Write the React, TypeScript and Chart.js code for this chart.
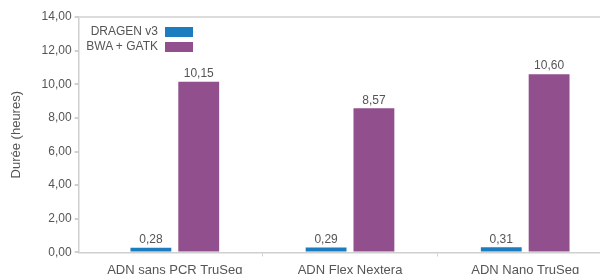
import React, { useEffect, useRef } from 'react';
import { Chart, registerables } from 'chart.js';

Chart.register(...registerables);

const categories = ['ADN sans PCR TruSeq', 'ADN Flex Nextera', 'ADN Nano TruSeq'];
const seriesNames = ['DRAGEN v3', 'BWA + GATK'];
const dragenValues = [0.28, 0.29, 0.31];
const bwaValues = [10.15, 8.57, 10.6];
const seriesColors = ['#1b7dbf', '#914f8d'];
const yTickValues = [0, 2, 4, 6, 8, 10, 12, 14];
const yAxisTitle = 'Durée (heures)';

const FONT = '"Liberation Sans", Arial, Helvetica, sans-serif';
const TEXT = '#555555';

const fmt = (v: number) => v.toFixed(2).replace('.', ',');

const valueLabels = {
  id: 'valueLabels',
  afterDatasetsDraw(chart: any) {
    const ctx = chart.ctx;
    ctx.save();
    ctx.font = `12px ${FONT}`;
    ctx.fillStyle = TEXT;
    ctx.textAlign = 'center';
    ctx.textBaseline = 'bottom';
    chart.data.datasets.forEach((ds: any, di: number) => {
      chart.getDatasetMeta(di).data.forEach((bar: any, i: number) => {
        ctx.fillText(fmt(ds.data[i].y), bar.x, bar.y - 2);
      });
    });
    ctx.restore();
  },
};

export default function App() {
  const ref = useRef<HTMLCanvasElement | null>(null);

  useEffect(() => {
    if (!ref.current) return;
    const allSeries = [dragenValues, bwaValues];
    const chart = new Chart(ref.current, {
      type: 'bar',
      data: {
        datasets: allSeries.map((vals, si) => ({
          label: seriesNames[si],
          data: vals.map((v, i) => ({ x: i, y: v })),
          backgroundColor: seriesColors[si],
          borderWidth: 0,
          categoryPercentage: 0.546,
          barPercentage: 0.854,
        })),
      },
      options: {
        animation: false,
        responsive: false,
        layout: { padding: { left: 9, right: 0, top: 17, bottom: 0 } },
        plugins: { legend: { display: false }, tooltip: { enabled: false } },
        scales: {
          x: {
            type: 'linear',
            bounds: 'data',
            offset: false,
            min: -0.549,
            max: 2.427,
            afterBuildTicks: (scale: any) => {
              scale.ticks = categories.map((_, i) => ({ value: i }));
            },
            ticks: {
              autoSkip: false,
              maxRotation: 0,
              padding: 6,
              color: TEXT,
              font: { family: FONT, size: 13 },
              callback: (v: any) => categories[v] ?? '',
            },
            grid: {
              offset: true,
              drawOnChartArea: false,
              tickLength: 4,
              tickColor: (c: any) => (c.index === 0 ? 'rgba(0,0,0,0)' : '#d0d0d0'),
            },
            border: { color: '#cfcfcf', width: 1.5 },
          },
          y: {
            min: 0,
            max: 14,
            afterBuildTicks: (scale: any) => {
              scale.ticks = yTickValues.map((v) => ({ value: v }));
            },
            ticks: {
              padding: 3,
              color: TEXT,
              font: { family: FONT, size: 12 },
              callback: (v: any) => fmt(Number(v)),
            },
            grid: {
              color: (c: any) => (c.tick && c.tick.value === 14 ? '#dcdcdc' : 'rgba(0,0,0,0)'),
              lineWidth: 2,
              tickColor: '#d0d0d0',
              tickLength: 4,
            },
            border: { color: '#cfcfcf', width: 1.5 },
            title: {
              display: true,
              text: yAxisTitle,
              color: TEXT,
              font: { family: FONT, size: 13 },
              padding: { top: 0, bottom: 14 },
            },
          },
        },
      },
      plugins: [valueLabels],
    } as any);
    return () => chart.destroy();
  }, []);

  return (
    <div style={{ position: 'absolute', left: 0, top: 0, width: 600, height: 274, overflow: 'hidden', background: '#fff' }}>
      <canvas ref={ref} width={600} height={284} style={{ display: 'block', width: 600, height: 284 }} />
      <div
        style={{
          position: 'absolute',
          right: 407,
          top: 24,
          display: 'grid',
          gridTemplateColumns: 'auto 28px',
          columnGap: 7,
          rowGap: 0,
          alignItems: 'center',
          fontFamily: FONT,
          fontSize: 12,
          lineHeight: '15px',
          color: TEXT,
        }}
      >
        {seriesNames.map((name, i) => (
          <React.Fragment key={name}>
            <span style={{ textAlign: 'right', whiteSpace: 'nowrap' }}>{name}</span>
            <span style={{ display: 'block', width: 28, height: 10, background: seriesColors[i] }} />
          </React.Fragment>
        ))}
      </div>
    </div>
  );
}
